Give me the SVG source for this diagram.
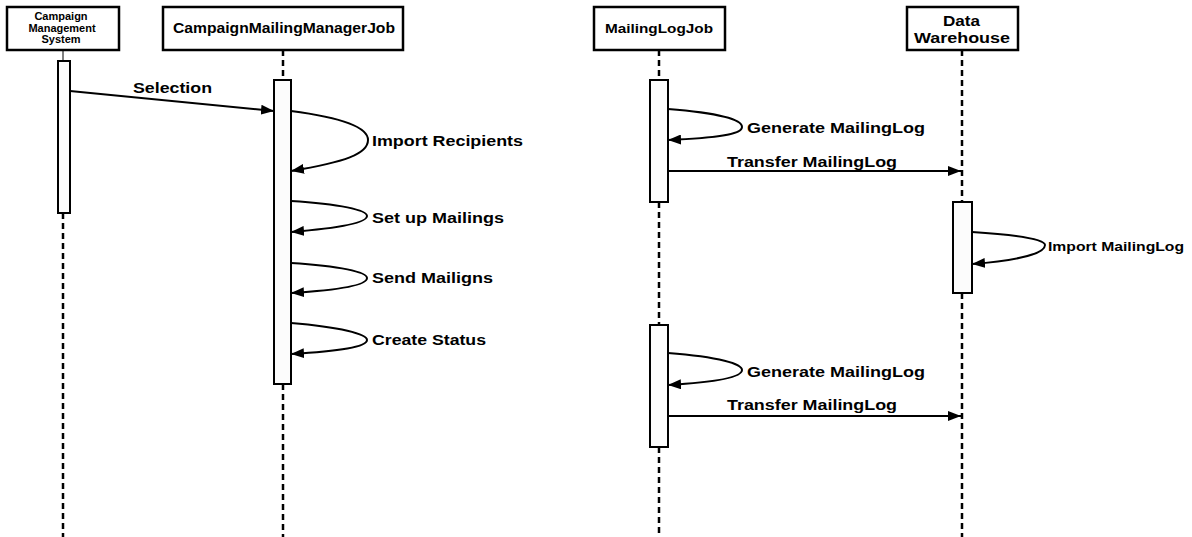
<svg xmlns="http://www.w3.org/2000/svg" width="1192" height="537" viewBox="0 0 1192 537">
<style>
.box{fill:#fff;stroke:#000;stroke-width:2.5}
.act{fill:#fcfcfc;stroke:#000;stroke-width:2}
.life{stroke:#000;stroke-width:2.5;stroke-dasharray:6 4;fill:none}
.msg{stroke:#000;stroke-width:2;fill:none}
text{font-family:"Liberation Sans",Arial,sans-serif;font-weight:bold;fill:#000}
.lbl{font-size:14px}
.sm{font-size:11px;text-anchor:middle}
</style>
<defs>
<marker id="ah" markerWidth="13" markerHeight="10" refX="13" refY="5" orient="auto" markerUnits="userSpaceOnUse">
<path d="M0,0 L13,5 L0,10 Z" fill="#000"/>
</marker>
</defs>
<g id="lifelines">
<line x1="63" y1="50" x2="63" y2="61" stroke="#000" stroke-width="1"/>
<line class="life" x1="63" y1="213" x2="63" y2="537"/>
<line class="life" x1="283" y1="50" x2="283" y2="80"/>
<line class="life" x1="283" y1="384" x2="283" y2="537"/>
<line class="life" x1="659" y1="50" x2="659" y2="80"/>
<line class="life" x1="659" y1="202" x2="659" y2="325"/>
<line class="life" x1="659" y1="447" x2="659" y2="537"/>
<line class="life" x1="962" y1="50" x2="962" y2="202"/>
<line class="life" x1="962" y1="293" x2="962" y2="537"/>
</g>
<g id="cms">
<rect class="box" x="7" y="7" width="112" height="43"/>
<text class="sm" x="61" y="20">Campaign</text>
<text class="sm" x="62" y="31.5">Management</text>
<text class="sm" x="61" y="43">System</text>
<rect class="act" x="58" y="61" width="12" height="152"/>
</g>
<g id="cmmj">
<rect class="box" x="163" y="7" width="240" height="43"/>
<text x="173" y="33" font-size="14" textLength="222" lengthAdjust="spacingAndGlyphs">CampaignMailingManagerJob</text>
<rect class="act" x="274" y="80" width="17" height="304"/>
</g>
<g id="mlj">
<rect class="box" x="594" y="7" width="131" height="43"/>
<text x="605" y="33" font-size="13" textLength="108" lengthAdjust="spacingAndGlyphs">MailingLogJob</text>
<rect class="act" x="650" y="80" width="18" height="122"/>
<rect class="act" x="650" y="325" width="18" height="122"/>
</g>
<g id="dw">
<rect class="box" x="907" y="7" width="111" height="43"/>
<text x="943" y="26" font-size="14" textLength="37" lengthAdjust="spacingAndGlyphs">Data</text>
<text x="914" y="43" font-size="14" textLength="96" lengthAdjust="spacingAndGlyphs">Warehouse</text>
<rect class="act" x="953" y="202" width="19" height="91"/>
</g>
<g id="connectors">
<line class="msg" x1="70" y1="91" x2="274" y2="111" marker-end="url(#ah)"/>
<path class="msg" d="M291,111 C345,118 368,128 368,140 C368,154 345,162 291,171" marker-end="url(#ah)"/>
<path class="msg" d="M291,201 C340,204 367,210 367,216 C367,223 340,228 291,232" marker-end="url(#ah)"/>
<path class="msg" d="M291,263 C340,266 367,272 367,278 C367,285 340,290 291,293" marker-end="url(#ah)"/>
<path class="msg" d="M291,323 C340,327 367,334 367,340 C367,347 340,351 291,354" marker-end="url(#ah)"/>
<path class="msg" d="M668,109 C720,113 742,120 742,127 C742,134 720,138 668,140" marker-end="url(#ah)"/>
<line class="msg" x1="668" y1="171" x2="961" y2="171" marker-end="url(#ah)"/>
<path class="msg" d="M972,232 C1022,235 1045,240 1045,245 C1045,253 1022,260 972,264" marker-end="url(#ah)"/>
<path class="msg" d="M668,353 C720,357 742,364 742,370 C742,377 720,382 668,385" marker-end="url(#ah)"/>
<line class="msg" x1="668" y1="416" x2="961" y2="416" marker-end="url(#ah)"/>
</g>
<g id="labels">
<text class="lbl" x="133" y="93" textLength="79" lengthAdjust="spacingAndGlyphs">Selection</text>
<text class="lbl" x="372" y="146" textLength="151" lengthAdjust="spacingAndGlyphs">Import Recipients</text>
<text class="lbl" x="372" y="223" textLength="132" lengthAdjust="spacingAndGlyphs">Set up Mailings</text>
<text class="lbl" x="372" y="283" textLength="121" lengthAdjust="spacingAndGlyphs">Send Mailigns</text>
<text class="lbl" x="372" y="345" textLength="114" lengthAdjust="spacingAndGlyphs">Create Status</text>
<text class="lbl" x="747" y="133" textLength="178" lengthAdjust="spacingAndGlyphs">Generate MailingLog</text>
<text class="lbl" x="727" y="167" textLength="170" lengthAdjust="spacingAndGlyphs">Transfer MailingLog</text>
<text x="1048" y="251" font-size="12" textLength="136" lengthAdjust="spacingAndGlyphs">Import MailingLog</text>
<text class="lbl" x="747" y="377" textLength="178" lengthAdjust="spacingAndGlyphs">Generate MailingLog</text>
<text class="lbl" x="727" y="410" textLength="170" lengthAdjust="spacingAndGlyphs">Transfer MailingLog</text>
</g>
</svg>
